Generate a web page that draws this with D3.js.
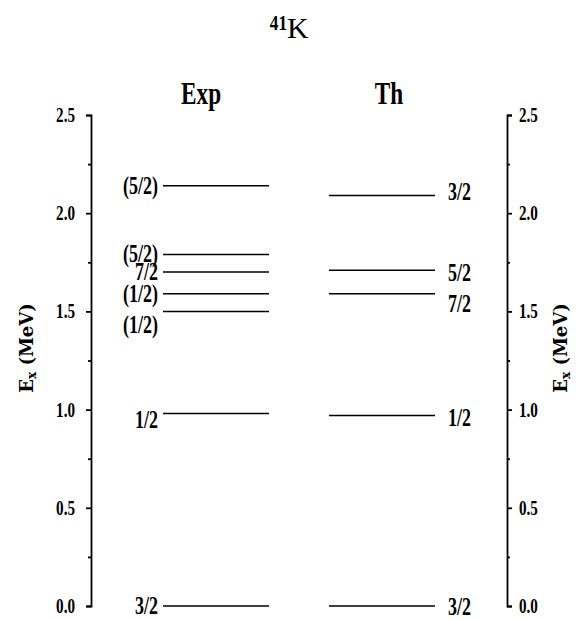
<!DOCTYPE html>
<html>
<head>
<meta charset="utf-8">
<script src="https://cdn.jsdelivr.net/npm/d3@7"></script>
<style>
  html, body { margin: 0; padding: 0; background: #fff; }
  svg { display: block; }
  text { fill: #000; }
</style>
</head>
<body>
<svg id="chart" width="580" height="620"></svg>
<script>
// Level scheme of 41K: experimental vs. theoretical excitation energies (MeV)
const columns = ["Exp", "Th"];
const expEnergies = [0.00, 0.98, 1.50, 1.59, 1.70, 1.79, 2.14];
const expSpins    = ["3/2", "1/2", "(1/2)", "(1/2)", "7/2", "(5/2)", "(5/2)"];
const thEnergies  = [0.00, 0.97, 1.59, 1.71, 2.09];
const thSpins     = ["3/2", "1/2", "7/2", "5/2", "3/2"];
const majorTicks  = [0.0, 0.5, 1.0, 1.5, 2.0, 2.5];
const tickLabels  = ["0.0", "0.5", "1.0", "1.5", "2.0", "2.5"];
const minorTicks  = [0.25, 0.75, 1.25, 1.75, 2.25];
const axisTitle   = "(MeV)";

const svg = d3.select("#chart");
const serif = "'Liberation Serif', 'Times New Roman', serif";
const SQ = 0.74; // horizontal squeeze of the narrow serif lettering

const axisLeftX = 91, axisRightX = 507;
const y = d3.scaleLinear().domain([0, 2.5]).range([606, 115]);
const x = d3.scaleBand().domain(columns).range([163, 435])
  .paddingInner(0.361).paddingOuter(0);

// text helper: squeezed horizontally around its anchor point
function label(g, str, px, py, opts) {
  const o = Object.assign({ size: 18, anchor: "start", weight: "normal", sq: SQ }, opts || {});
  return g.append("text")
    .attr("transform", `translate(${px},${py}) scale(${o.sq},1)`)
    .attr("text-anchor", o.anchor)
    .attr("font-family", serif)
    .attr("font-size", o.size)
    .attr("font-weight", o.weight)
    .text(str);
}

// title: 41K with the mass number raised
const title = svg.append("g");
label(title, "41", 287, 30, { size: 22, anchor: "end", weight: "bold", sq: 0.78 });
label(title, "K", 287, 38, { size: 30, anchor: "start", weight: "normal", sq: 1 });

// column headings
const headNudge = { Exp: -15, Th: 7 };
columns.forEach(c => {
  label(svg, c, x(c) + x.bandwidth() / 2 + headNudge[c], 104,
    { size: 31, anchor: "middle", weight: "bold", sq: 0.75 });
});

// axes
const leftAxis = d3.axisLeft(y).tickValues(majorTicks).tickSize(5).tickSizeOuter(5).tickFormat("");
const rightAxis = d3.axisRight(y).tickValues(majorTicks).tickSize(5).tickSizeOuter(5).tickFormat("");
const leftMinor = d3.axisLeft(y).tickValues(minorTicks).tickSize(3).tickSizeOuter(0).tickFormat("");
const rightMinor = d3.axisRight(y).tickValues(minorTicks).tickSize(3).tickSizeOuter(0).tickFormat("");

function styleAxis(g) {
  g.selectAll("path, line").attr("stroke", "#000").attr("stroke-width", 1.8);
}
svg.append("g").attr("transform", `translate(${axisLeftX},0)`).call(leftAxis).call(styleAxis);
svg.append("g").attr("transform", `translate(${axisRightX},0)`).call(rightAxis).call(styleAxis);
svg.append("g").attr("transform", `translate(${axisLeftX},0)`).call(leftMinor).call(styleAxis)
  .select(".domain").remove();
svg.append("g").attr("transform", `translate(${axisRightX},0)`).call(rightMinor).call(styleAxis)
  .select(".domain").remove();

// tick labels
const tl = svg.append("g");
majorTicks.forEach((v, i) => {
  label(tl, tickLabels[i], axisLeftX - 16, y(v) + 7, { size: 21, anchor: "end", weight: "bold", sq: 0.72 });
  label(tl, tickLabels[i], axisRightX + 12, y(v) + 7, { size: 21, anchor: "start", weight: "bold", sq: 0.72 });
});

// axis titles "Ex (MeV)" reading upward on both sides
function axisTitleAt(cx, cy) {
  const t = svg.append("text")
    .attr("transform", `translate(${cx},${cy}) rotate(-90)`)
    .attr("text-anchor", "middle")
    .attr("font-family", "'DejaVu Serif', serif")
    .attr("font-weight", "bold")
    .attr("font-size", 18);
  t.append("tspan").text("E");
  t.append("tspan").attr("font-size", 12).attr("dy", 3).text("x");
  t.append("tspan").attr("dy", -3).text(" " + axisTitle);
}
axisTitleAt(33, 348);
axisTitleAt(567, 348);

// energy levels
const levels = svg.append("g").attr("stroke", "#000").attr("stroke-width", 1.5);
function drawLevels(col, energies) {
  levels.selectAll(null).data(energies).enter().append("line")
    .attr("x1", x(col)).attr("x2", x(col) + x.bandwidth())
    .attr("y1", d => y(d)).attr("y2", d => y(d));
}
drawLevels("Exp", expEnergies);
drawLevels("Th", thEnergies);

// spin labels, with small vertical shifts where labels crowd together
const expShift = [0, 6, 14, 0, 0, 0, 0];
const thShift  = [1, 3, 10, 3, -4];
const sl = svg.append("g");
expEnergies.forEach((e, i) => {
  label(sl, expSpins[i], x("Exp") - 5, y(e) + expShift[i] + 8, { size: 25, anchor: "end", weight: "bold", sq: 0.72 });
});
thEnergies.forEach((e, i) => {
  label(sl, thSpins[i], x("Th") + x.bandwidth() + 13, y(e) + thShift[i] + 8, { size: 25, anchor: "start", weight: "bold", sq: 0.72 });
});
</script>
</body>
</html>
